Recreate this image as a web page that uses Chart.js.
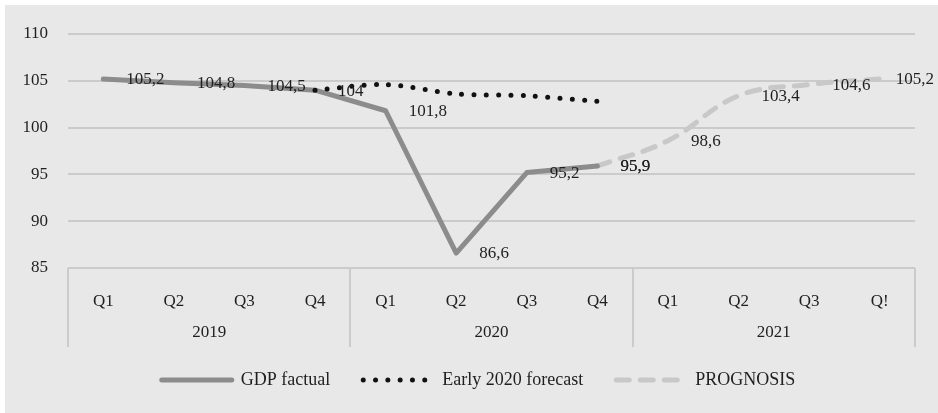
<!DOCTYPE html>
<html>
<head>
<meta charset="utf-8">
<script src="https://cdn.jsdelivr.net/npm/chart.js@4/dist/chart.umd.min.js"></script>
<style>
  html, body { margin: 0; padding: 0; background: #fff; }
  #wrap { width: 938px; height: 413px; }
</style>
</head>
<body>
<div id="wrap"><canvas id="gdpChart" width="938" height="413"></canvas></div>
<script>
// quarterly GDP index, 2019-2021
const quarters = ['Q1', 'Q2', 'Q3', 'Q4', 'Q1', 'Q2', 'Q3', 'Q4', 'Q1', 'Q2', 'Q3', 'Q!'];
const years = ['2019', '2020', '2021'];
const gdpFactual = [105.2, 104.8, 104.5, 104, 101.8, 86.6, 95.2, 95.9, null, null, null, null];
const earlyForecast = [null, null, null, 104, 104.6, 103.6, 103.4, 102.8, null, null, null, null];
const prognosis = [null, null, null, null, null, null, null, 95.9, 98.6, 103.4, 104.6, 105.2];
const yTicks = [85, 90, 95, 100, 105, 110];

const FAMILY = "'Liberation Serif', 'Times New Roman', serif";
const FONT = { family: FAMILY, size: 17 };
const LEGEND_FONT = { family: FAMILY, size: 18 };
const INK = '#1f1f1f';
const GRID = '#cbcbcb';

// grey panel behind the whole chart
const panelBg = {
  id: 'panelBg',
  beforeDraw(chart) {
    const c = chart.ctx;
    c.save();
    c.fillStyle = '#e8e8e8';
    c.fillRect(5, 5, chart.width - 5, chart.height - 5);
    c.restore();
  }
};

// year row + separators under the quarter labels
const yearGroups = {
  id: 'yearGroups',
  afterDraw(chart) {
    const x = chart.scales.x, c = chart.ctx;
    const top = chart.chartArea.bottom, bottom = top + 79;
    c.save();
    c.strokeStyle = GRID;
    c.lineWidth = 2;
    for (let k = 0; k <= quarters.length; k += 4) {
      const px = Math.round(x.getPixelForValue(k - 0.5));
      c.beginPath();
      c.moveTo(px, top);
      c.lineTo(px, bottom);
      c.stroke();
    }
    c.fillStyle = INK;
    c.font = FONT.size + 'px ' + FONT.family;
    c.textAlign = 'center';
    c.textBaseline = 'middle';
    years.forEach((yr, i) => c.fillText(yr, x.getPixelForValue(i * 4 + 1.5), top + 65));
    c.restore();
  }
};

// values written to the right of each point
const valueLabels = {
  id: 'valueLabels',
  afterDatasetsDraw(chart) {
    const c = chart.ctx;
    c.save();
    c.fillStyle = INK;
    c.font = FONT.size + 'px ' + FONT.family;
    c.textAlign = 'left';
    c.textBaseline = 'middle';
    chart.data.datasets.forEach((ds, i) => {
      if (!ds.valueLabels) return;
      chart.getDatasetMeta(i).data.forEach((pt, j) => {
        const v = ds.data[j];
        if (v == null) return;
        const txt = String(v).replace('.', ',');
        const w = c.measureText(txt).width;
        const tx = Math.min(pt.x + 23, chart.width - w - 4);
        c.fillText(txt, tx, pt.y + 1);
      });
    });
    c.restore();
  }
};

// nudge the legend row a bit to the right
const legendShift = {
  id: 'legendShift',
  afterLayout(chart) {
    chart.legend.left += 11;
    chart.legend.right += 11;
  }
};

// legend samples take the dataset's own line style
function lineSamples(chart) {
  return Chart.defaults.plugins.legend.labels.generateLabels(chart).map(item => {
    const ds = chart.data.datasets[item.datasetIndex];
    return Object.assign(item, {
      lineDash: ds.borderDash || [],
      lineCap: ds.borderCapStyle || 'butt',
      lineWidth: ds.borderWidth,
      strokeStyle: ds.borderColor
    });
  });
}

new Chart(document.getElementById('gdpChart'), {
  type: 'line',
  data: {
    labels: quarters,
    datasets: [
      {
        label: 'GDP factual', data: gdpFactual,
        borderColor: '#8c8c8c', backgroundColor: '#8c8c8c', borderWidth: 5,
        borderCapStyle: 'round', borderJoinStyle: 'round',
        tension: 0, pointRadius: 0, valueLabels: true, order: 1
      },
      {
        label: 'Early 2020 forecast', data: earlyForecast,
        borderColor: '#111111', backgroundColor: '#111111', borderWidth: 5,
        borderDash: [0, 12.3], borderCapStyle: 'round',
        tension: 0.3, pointRadius: 0, order: 0
      },
      {
        label: 'PROGNOSIS', data: prognosis,
        borderColor: '#c8c8c8', backgroundColor: '#c8c8c8', borderWidth: 5,
        borderDash: [13, 11], borderCapStyle: 'round',
        tension: 0.4, pointRadius: 0, valueLabels: true, order: 2
      }
    ]
  },
  options: {
    responsive: false,
    animation: false,
    events: [],
    layout: { padding: { left: 20, right: 23, top: 34, bottom: 14 } },
    plugins: {
      tooltip: { enabled: false },
      legend: {
        display: true,
        position: 'bottom',
        labels: {
          usePointStyle: true,
          pointStyle: 'line',
          pointStyleWidth: 70,
          padding: 33,
          color: INK,
          font: LEGEND_FONT,
          generateLabels: lineSamples,
          sort: (a, b) => a.datasetIndex - b.datasetIndex
        }
      }
    },
    scales: {
      x: {
        offset: true,
        grid: { display: false },
        border: { display: false },
        ticks: { color: INK, font: FONT, padding: 15, maxRotation: 0, autoSkip: false },
        afterFit(s) { s.height = 70; }
      },
      y: {
        min: yTicks[0],
        max: yTicks[yTicks.length - 1],
        ticks: { stepSize: 5, color: INK, font: FONT, padding: 20 },
        grid: { color: GRID, lineWidth: 2, drawTicks: false },
        border: { display: false },
        afterFit(s) { s.width = 48; }
      }
    }
  },
  plugins: [panelBg, yearGroups, valueLabels, legendShift]
});
</script>
</body>
</html>
